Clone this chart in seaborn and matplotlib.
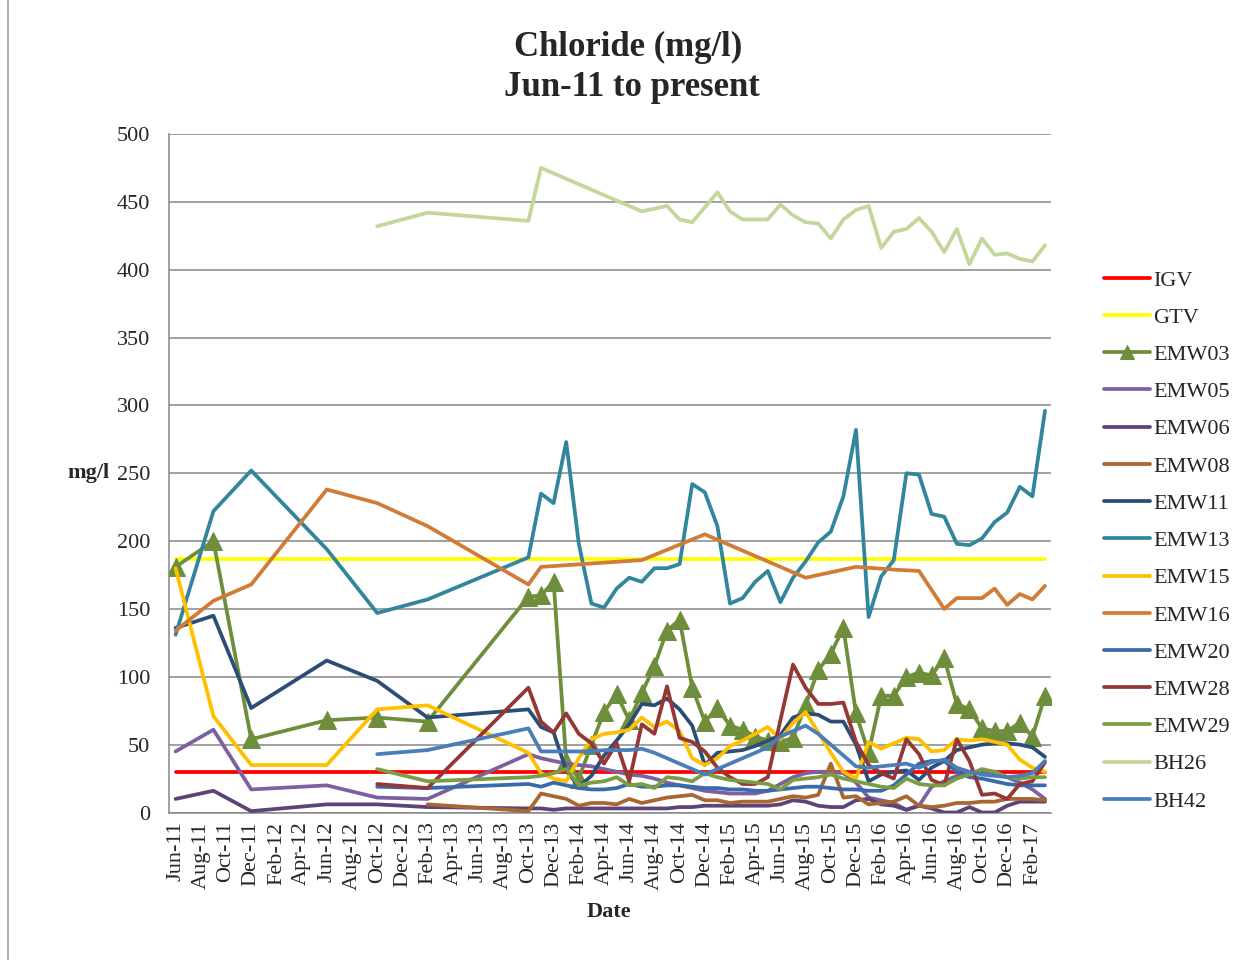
import numpy as np
import matplotlib
matplotlib.use("Agg")
import matplotlib.pyplot as plt
from matplotlib.lines import Line2D
import seaborn as sns

# ---------------- data (x = months since Jun-2011, 0 = Jun-11) ----------------
TICK_LABELS = ['Jun-11', 'Aug-11', 'Oct-11', 'Dec-11', 'Feb-12', 'Apr-12', 'Jun-12',
               'Aug-12', 'Oct-12', 'Dec-12', 'Feb-13', 'Apr-13', 'Jun-13', 'Aug-13',
               'Oct-13', 'Dec-13', 'Feb-14', 'Apr-14', 'Jun-14', 'Aug-14', 'Oct-14',
               'Dec-14', 'Feb-15', 'Apr-15', 'Jun-15', 'Aug-15', 'Oct-15', 'Dec-15',
               'Feb-16', 'Apr-16', 'Jun-16', 'Aug-16', 'Oct-16', 'Dec-16', 'Feb-17']

EARLY_MONTHS = [0, 3, 6, 12, 16, 20]
MONTHLY = [28, 29, 30, 31, 32, 33, 34, 35, 36, 37, 38, 39, 40, 41, 42, 43, 44, 45,
           46, 47, 48, 49, 50, 51, 52, 53, 54, 55, 56, 57, 58, 59, 60, 61, 62, 63,
           64, 65, 66, 67, 68, 69]
LATE_START = [16, 20]

IGV_MONTHS = [0, 69]
IGV = [30, 30]
GTV_MONTHS = [0, 69]
GTV = [187, 187]

EMW03 = [181, 200, 54, 68, 70, 67,
         159, 160, 170, 38, 25, 50, 74, 87, 68, 88,
         108, 134, 142, 92, 67, 77, 64, 61, 56, 53,
         52, 55, 79, 105, 117, 136, 73, 44, 86, 86,
         100, 103, 101, 114, 80, 76, 62, 60, 60, 66,
         56, 86]
EMW05 = [45, 61, 17, 20, 11, 10,
         43, 40, 38, 36, 35, 34, 32, 30, 28, 27,
         25, 22, 20, 18, 16, 15, 14, 14, 14, 16,
         21, 26, 29, 30, 30, 29, 22, 11, 9, 7,
         2, 5, 19, 23, 27, 30, 30, 30, 26, 22,
         17, 10]
EMW06 = [10, 16, 1, 6, 6, 4,
         3, 3, 2, 3, 3, 3, 3, 3, 3, 3,
         3, 3, 4, 4, 5, 5, 5, 5, 5, 5,
         6, 9, 8, 5, 4, 4, 9, 10, 6, 5,
         2, 5, 3, 0, 0, 4, 0, 0, 5, 8,
         8, 8]
EMW08_MONTHS = [20] + MONTHLY
EMW08 = [6,
         1, 14, 12, 10, 5, 7, 7, 6, 10, 7,
         9, 11, 12, 13, 9, 9, 7, 8, 8, 8,
         10, 12, 11, 13, 36, 11, 12, 6, 7, 8,
         12, 5, 4, 5, 7, 7, 8, 8, 10, 10,
         10, 9]
EMW11 = [136, 145, 77, 112, 97, 70,
         76, 63, 59, 31, 19, 27, 42, 53, 65, 80,
         79, 84, 76, 64, 35, 44, 45, 46, 49, 53,
         57, 70, 73, 72, 67, 67, 50, 23, 28, 30,
         31, 24, 33, 38, 46, 48, 50, 51, 51, 50,
         48, 41]
EMW13 = [131, 222, 252, 194, 147, 157,
         188, 235, 228, 273, 198, 154, 151, 165, 173, 170,
         180, 180, 183, 242, 236, 211, 154, 158, 170, 178,
         155, 173, 185, 199, 207, 233, 282, 144, 174, 186,
         250, 249, 220, 218, 198, 197, 202, 214, 221, 240,
         233, 296]
EMW15 = [180, 71, 35, 35, 76, 79,
         44, 29, 25, 23, 40, 54, 58, 59, 61, 70,
         63, 67, 60, 40, 35, 40, 49, 53, 58, 63,
         54, 66, 74, 59, 44, 30, 25, 52, 47, 51,
         55, 54, 45, 46, 54, 53, 54, 52, 50, 39,
         33, 30]
EMW16_MONTHS = [0, 3, 6, 12, 16, 20, 28, 29, 37, 42, 50, 54, 57, 59, 61, 62, 63,
                64, 65, 66, 67, 68, 69]
EMW16 = [134, 156, 168, 238, 228, 211, 168, 181, 186, 205, 173, 181, 179, 178,
         150, 158, 158, 158, 165, 153, 161, 157, 167]
EMW20 = [19, 18,
         21, 19, 22, 20, 18, 17, 17, 18, 21, 19,
         19, 20, 20, 19, 18, 18, 17, 17, 16, 16,
         17, 18, 19, 19, 18, 17, 17, 16, 16, 20,
         28, 36, 38, 38, 30, 26, 25, 23, 21, 20,
         20, 20]
EMW28 = [21, 18,
         92, 67, 59, 73, 58, 51, 36, 51, 23, 65,
         58, 93, 55, 52, 45, 33, 26, 21, 21, 26,
         68, 109, 92, 80, 80, 81, 52, 35, 29, 25,
         54, 43, 24, 20, 54, 38, 13, 14, 10, 21,
         23, 37]
EMW29 = [32, 23,
         26, 27, 29, 32, 20, 22, 23, 26, 20, 21,
         18, 26, 25, 23, 29, 26, 24, 23, 22, 21,
         17, 24, 25, 26, 28, 25, 23, 21, 19, 18,
         25, 21, 20, 20, 25, 28, 32, 30, 26, 25,
         26, 26]
BH26_MONTHS = [16, 20, 28, 29, 37, 39, 40, 41, 43, 44, 45, 46, 47, 48, 49, 50, 51,
               52, 53, 54, 55, 56, 57, 58, 59, 60, 61, 62, 63, 64, 65, 66, 67, 68, 69]
BH26 = [432, 442, 436, 475, 443, 447, 437, 435, 457, 443, 437, 437, 437, 448, 440,
        435, 434, 423, 437, 444, 447, 416, 428, 430, 438, 428, 413, 430, 404, 423,
        411, 412, 408, 406, 418]
BH42 = [43, 46,
        62, 45, 45, 45, 45, 45, 46, 46, 46, 47,
        44, 40, 36, 32, 28, 32, 36, 40, 44, 48,
        56, 60, 64, 58, 50, 42, 34, 33, 34, 35,
        36, 33, 37, 39, 33, 30, 28, 27, 26, 27,
        29, 38]

# ---------------- style ----------------
sns.set_style("white")
plt.rcParams['font.family'] = ['Liberation Serif', 'DejaVu Serif']
GRAY = '#868686'
FS = 16

fig = plt.figure(figsize=(12.44, 9.6), dpi=100)
ax = fig.add_axes([169.3 / 1244, 1 - 812.5 / 960, (1051.3 - 169.3) / 1244, (812.5 - 134) / 960])

series = [
    ('IGV', IGV_MONTHS, IGV, '#FF0000', None),
    ('GTV', GTV_MONTHS, GTV, '#FFFF00', None),
    ('EMW03', EARLY_MONTHS + MONTHLY, EMW03, '#6F8E3B', '^'),
    ('EMW05', EARLY_MONTHS + MONTHLY, EMW05, '#7E60A0', None),
    ('EMW06', EARLY_MONTHS + MONTHLY, EMW06, '#5C4478', None),
    ('EMW08', EMW08_MONTHS, EMW08, '#AA6630', None),
    ('EMW11', EARLY_MONTHS + MONTHLY, EMW11, '#2C4D75', None),
    ('EMW13', EARLY_MONTHS + MONTHLY, EMW13, '#31859C', None),
    ('EMW15', EARLY_MONTHS + MONTHLY, EMW15, '#FFC000', None),
    ('EMW16', EMW16_MONTHS, EMW16, '#D27B36', None),
    ('EMW20', LATE_START + MONTHLY, EMW20, '#3A6AAA', None),
    ('EMW28', LATE_START + MONTHLY, EMW28, '#953735', None),
    ('EMW29', LATE_START + MONTHLY, EMW29, '#7A9D44', None),
    ('BH26', BH26_MONTHS, BH26, '#C3D69B', None),
    ('BH42', LATE_START + MONTHLY, BH42, '#4A7EBB', None),
]

for i, (name, xs, ys, col, mk) in enumerate(series):
    kw = dict(color=col, linewidth=2.7, label=name, sort=False, estimator=None,
              ax=ax, zorder=3 + i, solid_joinstyle='round', solid_capstyle='round')
    if mk:
        kw.update(marker=mk, markersize=13, markeredgecolor=col, markerfacecolor=col)
    sns.lineplot(x=xs, y=ys, **kw)

# ---------------- axes ----------------
ax.set_xlim(-0.5, 69.5)
ax.set_ylim(0, 500)
ax.set_yticks(np.arange(0, 501, 50))
ax.yaxis.grid(True, color=GRAY, linewidth=1.1)
ax.xaxis.grid(False)
ax.set_axisbelow(True)
ax.set_xticks(np.arange(-0.5, 70, 2))
ax.set_xticklabels([])
ax.set_xticks(np.arange(0, 69, 2), minor=True)
ax.set_xticklabels(TICK_LABELS, minor=True, rotation=90, fontsize=FS)
ax.tick_params(axis='x', which='major', length=6.5, width=1, color=GRAY, direction='out')
ax.tick_params(axis='x', which='minor', length=0, pad=6.5)
ax.tick_params(axis='y', length=4.8, width=1, color=GRAY, direction='out', pad=9,
               labelsize=FS)
for s in ['top', 'right']:
    ax.spines[s].set_visible(False)
for s in ['left', 'bottom']:
    ax.spines[s].set_color(GRAY)
    ax.spines[s].set_linewidth(1.1)
ax.set_xlabel('')
ax.set_ylabel('')

fig.text(88 / 1244, 1 - 473 / 960, 'mg/l', fontsize=FS, fontweight='bold',
         ha='center', va='center')
fig.text(609 / 1244, 1 - 912 / 960, 'Date', fontsize=FS, fontweight='bold',
         ha='center', va='center')
fig.text(628 / 1244, 1 - 47 / 960, 'Chloride (mg/l)', fontsize=25, fontweight='bold',
         ha='center', va='center')
fig.text(632 / 1244, 1 - 87 / 960, 'Jun-11 to present', fontsize=25, fontweight='bold',
         ha='center', va='center')

handles, labels = ax.get_legend_handles_labels()
if ax.get_legend():
    ax.get_legend().remove()
leg = fig.legend(handles, labels, loc='upper left',
                 bbox_to_anchor=(1104 / 1244, 1 - 270 / 960),
                 frameon=False, fontsize=FS, borderpad=0, borderaxespad=0,
                 handlelength=2.05, handletextpad=0.15, labelspacing=0.75,
                 numpoints=1, markerscale=0.75)

fig.add_artist(Line2D([8 / 1244, 8 / 1244], [0, 1], color='#A0A0A0', linewidth=1.2))

fig.savefig('out.png', dpi=100)
